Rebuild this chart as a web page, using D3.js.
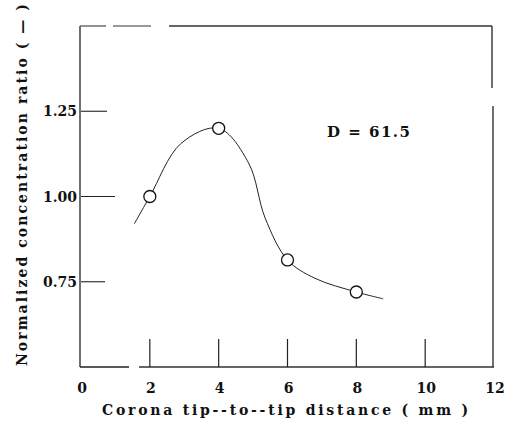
<!DOCTYPE html>
<html>
<head>
<meta charset="utf-8" />
<title>concentration ratio</title>
<style>
  body { margin: 0; padding: 0; background: #fff; }
</style>
</head>
<body>
<script src="https://cdn.jsdelivr.net/npm/d3@7"></script>
<script>

// measured points
var pointX = [2, 4, 6, 8];
var pointY = [1.00, 1.20, 0.814, 0.72];

// hand drawn fit curve
var curveX = [1.55, 2.0, 2.9, 4.0, 4.87, 5.35, 6.0, 6.8, 8.0, 8.78];
var curveY = [0.92, 1.00, 1.155, 1.20, 1.098, 0.937, 0.814, 0.76, 0.72, 0.70];

var xTicks = [0, 2, 4, 6, 8, 10, 12];
var xInnerTicks = [2, 4, 6, 8, 10];
var yTicks = [0.75, 1.00, 1.25];
var yTickLabels = ["0.75", "1.00", "1.25"];

var width = 516, height = 423;
var serif = "DejaVu Serif";

var svg = d3.select("body").append("svg")
    .attr("width", width)
    .attr("height", height)
    .style("font-family", serif);

var x = d3.scaleLinear().domain([0, 12]).range([81, 494]);
var y = d3.scaleLinear().domain([0.5, 1.5]).range([367, 26]);

// frame, drawn in pieces because the scan has breaks in it
var frame = svg.append("g")
    .attr("fill", "none")
    .attr("stroke-width", 1.3);

function seg(x1, y1, x2, y2, col) {
  frame.append("line")
      .attr("x1", x1).attr("y1", y1)
      .attr("x2", x2).attr("y2", y2)
      .attr("stroke", col || "#222");
}

seg(x(0) - 1, y(1.5), x(0) - 1, y(0.5));                   // left
seg(x(0) - 1, y(0.5), x(0) + 48, y(0.5));                  // bottom
seg(x(0) + 58, y(0.5), x(12), y(0.5), "#333");
seg(x(0) - 1, y(1.5), x(0) + 25, y(1.5), "#555");          // top
seg(x(0) + 32, y(1.5), x(0) + 70, y(1.5), "#777");
seg(x(0) + 88, y(1.5), x(12) - 2, y(1.5), "#333");
seg(x(12) - 2, y(1.5), x(12) - 2, y(1.5) + 62);            // right
seg(x(12) - 1, y(1.5) + 80, x(12) - 1, y(0.5));

// x ticks, pointing up from the bottom
svg.append("g")
    .selectAll("line")
    .data(xInnerTicks)
    .join("line")
    .attr("x1", function(d) { return x(d); })
    .attr("x2", function(d) { return x(d); })
    .attr("y1", y(0.5))
    .attr("y2", y(0.5) - 28)
    .attr("stroke", "#222")
    .attr("stroke-width", 1.2);

svg.append("g")
    .selectAll("text")
    .data(xTicks)
    .join("text")
    .attr("x", function(d) { return x(d) + 1; })
    .attr("y", 393)
    .attr("text-anchor", "middle")
    .attr("font-size", 14)
    .attr("font-weight", "bold")
    .attr("fill", "#111")
    .text(function(d) { return d; });

// y ticks, pointing in from the left
var yTickLen = [24, 34, 26];
svg.append("g")
    .selectAll("line")
    .data(yTicks)
    .join("line")
    .attr("x1", x(0))
    .attr("x2", function(d, i) { return x(0) + yTickLen[i]; })
    .attr("y1", function(d) { return y(d); })
    .attr("y2", function(d) { return y(d); })
    .attr("stroke", "#222")
    .attr("stroke-width", 1.1);

svg.append("g")
    .selectAll("text")
    .data(yTicks)
    .join("text")
    .attr("x", 77)
    .attr("y", function(d) { return y(d) + 5; })
    .attr("text-anchor", "end")
    .attr("font-size", 14)
    .attr("font-weight", "bold")
    .attr("fill", "#111")
    .text(function(d, i) { return yTickLabels[i]; });

// fitted curve
var line = d3.line()
    .curve(d3.curveCatmullRom.alpha(0.5))
    .x(function(d) { return x(d[0]); })
    .y(function(d) { return y(d[1]); });

svg.append("path")
    .datum(d3.zip(curveX, curveY))
    .attr("d", line)
    .attr("fill", "none")
    .attr("stroke", "#222")
    .attr("stroke-width", 1);

// open circles
svg.append("g")
    .selectAll("circle")
    .data(d3.zip(pointX, pointY))
    .join("circle")
    .attr("cx", function(d) { return x(d[0]); })
    .attr("cy", function(d) { return y(d[1]); })
    .attr("r", 6)
    .attr("fill", "#fff")
    .attr("stroke", "#111")
    .attr("stroke-width", 1.3);

// annotation
svg.append("text")
    .attr("x", 327)
    .attr("y", 137)
    .attr("font-size", 15)
    .attr("font-weight", "bold")
    .attr("fill", "#111")
    .attr("textLength", 83)
    .attr("lengthAdjust", "spacing")
    .text("D = 61.5");

// axis titles
svg.append("text")
    .attr("x", 285)
    .attr("y", 415)
    .attr("text-anchor", "middle")
    .attr("font-size", 14)
    .attr("font-weight", "bold")
    .attr("fill", "#111")
    .attr("textLength", 366)
    .attr("lengthAdjust", "spacing")
    .text("Corona tip--to--tip distance ( mm )");

svg.append("text")
    .attr("transform", "translate(27,185) rotate(-90)")
    .attr("text-anchor", "middle")
    .attr("font-size", 14)
    .attr("font-weight", "bold")
    .attr("fill", "#111")
    .attr("textLength", 362)
    .attr("lengthAdjust", "spacing")
    .text("Normalized concentration ratio ( \u2014 )");

</script>
</body>
</html>
